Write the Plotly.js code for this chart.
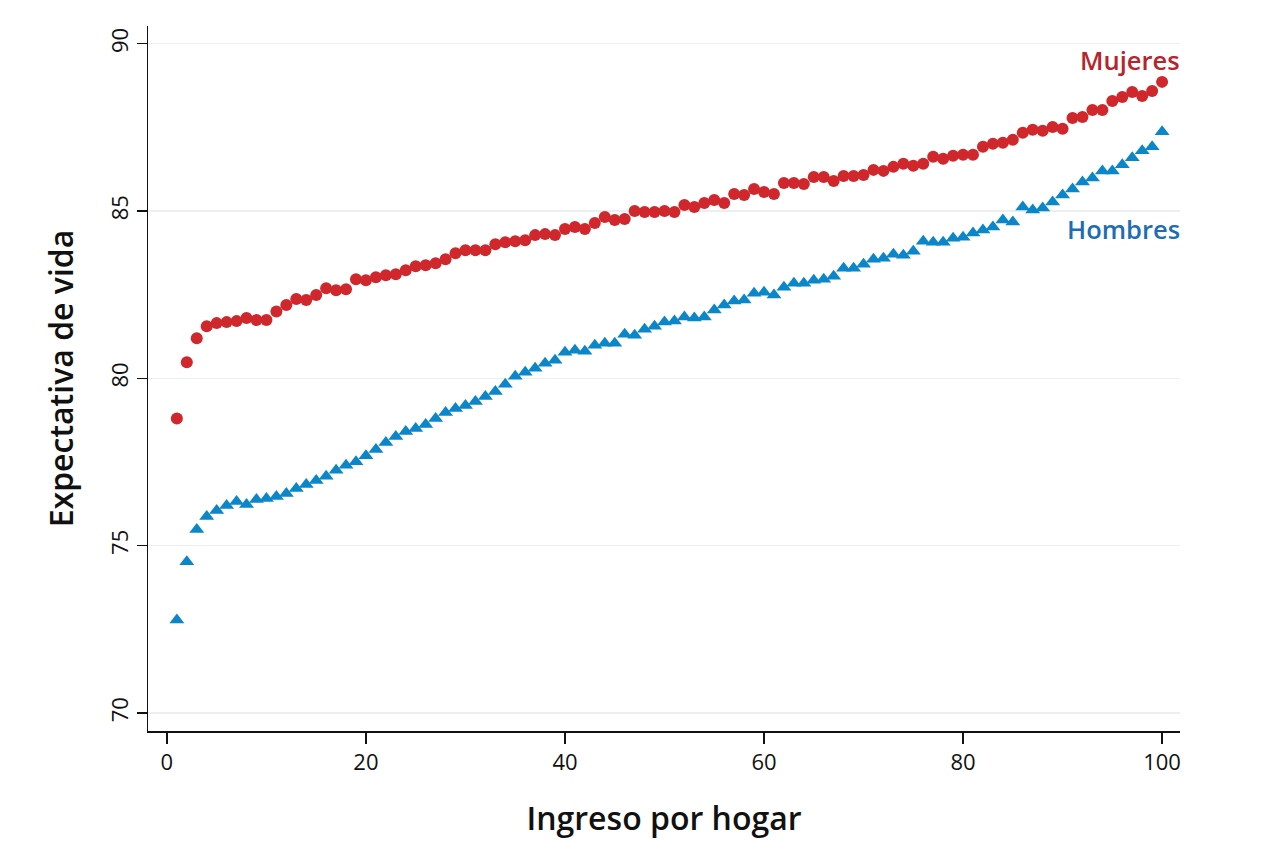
<!DOCTYPE html>
<html>
<head>
<meta charset="utf-8">
<script src="https://cdn.plot.ly/plotly-3.0.1.min.js"></script>
<style>html,body{margin:0;padding:0;background:#fff;}#chart{width:1280px;height:853px;}</style>
</head>
<body>
<div id="chart"></div>
<script>
const percentil = Array.from({length: 100}, (_, i) => i + 1);

const mujeres = [
  78.80, 80.48, 81.20, 81.56, 81.65, 81.68, 81.71, 81.80, 81.74, 81.74,
  82.00, 82.19, 82.37, 82.34, 82.49, 82.69, 82.63, 82.66, 82.96, 82.93,
  83.02, 83.08, 83.11, 83.23, 83.35, 83.38, 83.44, 83.56, 83.74, 83.83,
  83.83, 83.83, 84.01, 84.07, 84.10, 84.13, 84.28, 84.31, 84.28, 84.46,
  84.52, 84.46, 84.64, 84.82, 84.73, 84.76, 85.00, 84.97, 84.97, 85.00,
  84.97, 85.18, 85.12, 85.24, 85.33, 85.24, 85.51, 85.48, 85.66, 85.57,
  85.51, 85.84, 85.84, 85.81, 86.02, 86.02, 85.90, 86.05, 86.05, 86.08,
  86.23, 86.20, 86.32, 86.41, 86.35, 86.41, 86.62, 86.56, 86.65, 86.68,
  86.68, 86.92, 87.01, 87.04, 87.13, 87.34, 87.43, 87.40, 87.51, 87.46,
  87.78, 87.81, 88.02, 88.02, 88.29, 88.41, 88.56, 88.44, 88.59, 88.86
];

const hombres = [
  72.78, 74.52, 75.48, 75.87, 76.05, 76.20, 76.32, 76.23, 76.38, 76.41,
  76.47, 76.56, 76.71, 76.83, 76.95, 77.07, 77.25, 77.40, 77.51, 77.69,
  77.87, 78.08, 78.26, 78.41, 78.50, 78.62, 78.80, 78.98, 79.10, 79.19,
  79.31, 79.46, 79.61, 79.82, 80.06, 80.18, 80.30, 80.45, 80.54, 80.78,
  80.84, 80.81, 80.99, 81.05, 81.05, 81.32, 81.29, 81.47, 81.56, 81.68,
  81.71, 81.83, 81.80, 81.83, 82.04, 82.19, 82.31, 82.34, 82.54, 82.57,
  82.49, 82.72, 82.84, 82.84, 82.93, 82.96, 83.05, 83.29, 83.29, 83.41,
  83.56, 83.59, 83.71, 83.68, 83.80, 84.10, 84.07, 84.07, 84.19, 84.22,
  84.34, 84.43, 84.52, 84.73, 84.67, 85.12, 85.03, 85.09, 85.27, 85.48,
  85.66, 85.87, 85.99, 86.20, 86.20, 86.38, 86.59, 86.80, 86.92, 87.37
];

const xTicks = [0, 20, 40, 60, 80, 100];
const yTicks = [70, 75, 80, 85, 90];
const serieNombres = ["Mujeres", "Hombres"];

const FONT = "Open Sans, Noto Sans, DejaVu Sans, sans-serif";

const traces = [
  {
    x: percentil, y: mujeres, type: "scatter", mode: "markers", name: serieNombres[0],
    marker: {symbol: "circle", size: 12, color: "#d0272c"},
    hoverinfo: "skip"
  },
  {
    x: percentil, y: hombres, type: "scatter", mode: "markers", name: serieNombres[1],
    marker: {symbol: "triangle-up", size: 13, color: "#0b86c9"},
    hoverinfo: "skip"
  }
];

const layout = {
  width: 1280, height: 853,
  margin: {l: 148, r: 100, t: 26, b: 122, pad: 0},
  paper_bgcolor: "#ffffff",
  plot_bgcolor: "#ffffff",
  showlegend: false,
  font: {family: FONT, color: "#111111", size: 22},
  xaxis: {
    range: [-1.9, 101.8],
    tickvals: xTicks,
    ticktext: xTicks.map(String),
    ticks: "outside", ticklen: 11, tickwidth: 1.5, tickcolor: "#111",
    showline: true, linecolor: "#111", linewidth: 1.5,
    showgrid: false, zeroline: false,
    tickfont: {family: FONT, size: 22, color: "#111"},
    title: {text: "Ingreso por hogar", font: {family: FONT, size: 32, weight: 600, color: "#111"}, standoff: 32}
  },
  yaxis: {
    range: [69.46, 90.53],
    tickvals: yTicks,
    ticktext: yTicks.map(String),
    tickangle: -90,
    ticks: "outside", ticklen: 10, tickwidth: 1.5, tickcolor: "#111",
    showline: true, linecolor: "#111", linewidth: 1.5,
    showgrid: true, gridcolor: "#ebefef", gridwidth: 1.5,
    zeroline: false,
    tickfont: {family: FONT, size: 22, color: "#111"},
    title: {text: "Expectativa de vida", font: {family: FONT, size: 32, weight: 600, color: "#111"}, standoff: 20}
  },
  annotations: [
    {xref: "paper", yref: "y", x: 1.002, y: 89.5, xanchor: "right", yanchor: "middle",
     text: serieNombres[0], showarrow: false,
     font: {family: FONT, size: 25.5, weight: 600, color: "#b7242c"}},
    {xref: "paper", yref: "y", x: 1.002, y: 84.45, xanchor: "right", yanchor: "middle",
     text: serieNombres[1], showarrow: false,
     font: {family: FONT, size: 25.5, weight: 600, color: "#1c6db5"}}
  ]
};

Plotly.newPlot("chart", traces, layout, {displayModeBar: false, staticPlot: true});
</script>
</body>
</html>
